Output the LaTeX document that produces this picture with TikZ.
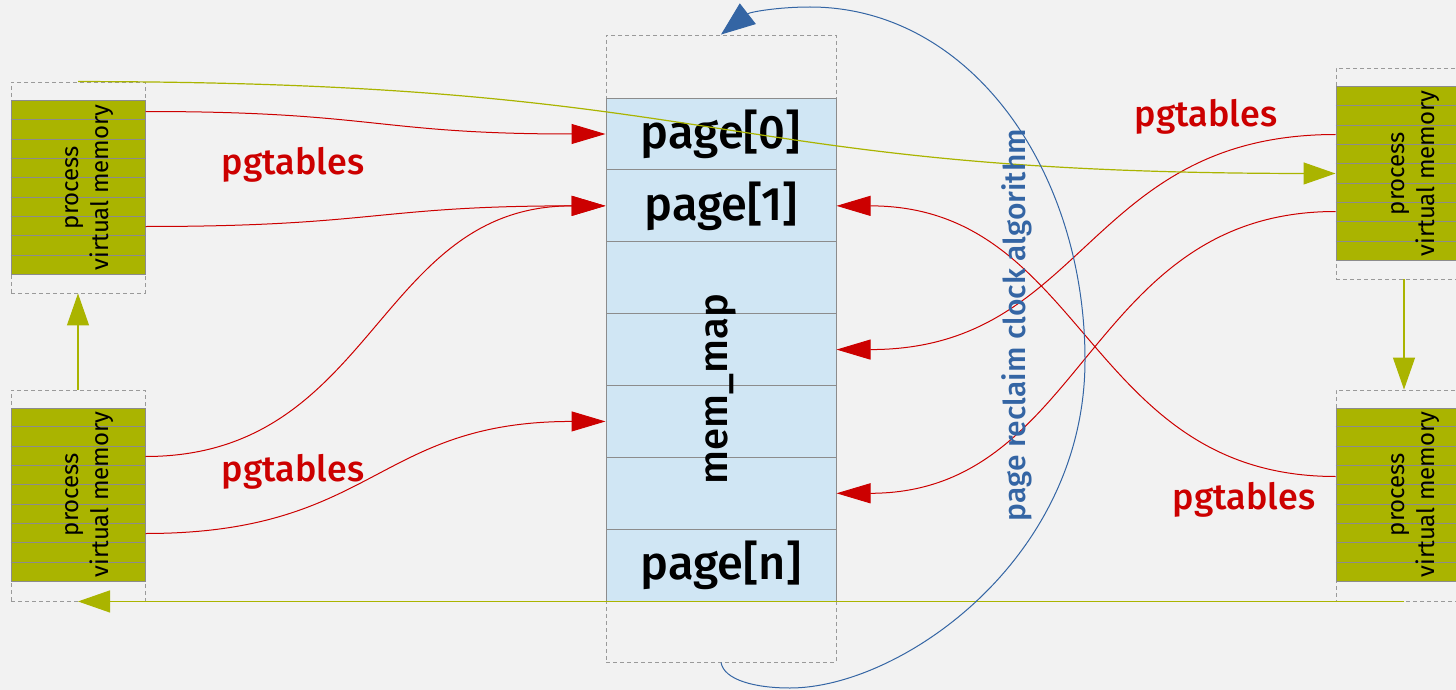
\documentclass[tikz,border=0pt]{standalone}
\usepackage{fontspec}
\setmainfont{Fira Sans}[UprightFont={* Medium},BoldFont={* SemiBold}]
\newfontfamily\lightfont{Fira Sans}
\usepackage{tikz}
\usetikzlibrary{arrows.meta,calc,positioning}
\definecolor{bgc}{HTML}{F2F2F2}
\definecolor{vmc}{HTML}{AAB400}
\definecolor{stripec}{HTML}{8C8C8C}
\definecolor{framec}{HTML}{9A9A9A}
\definecolor{pagec}{HTML}{D0E6F4}
\definecolor{pgred}{HTML}{CC0000}
\definecolor{clockc}{HTML}{3465A4}
\tikzstyle{frame} =[draw=framec, dash pattern=on 4pt off 3pt, line width=0.9pt,
                    minimum width=134pt, minimum height=211pt, inner sep=0pt]
\tikzstyle{vmem}  =[draw=stripec, fill=vmc, line width=1pt,
                    minimum width=134pt, minimum height=173pt, inner sep=0pt]
\tikzstyle{vmtext}=[rotate=90, align=center, inner sep=0pt,
                    font=\lightfont\fontsize{24}{30}\selectfont]
\tikzstyle{page}  =[draw=stripec, fill=pagec, line width=1pt, minimum width=230pt,
                    minimum height=71.86pt, inner sep=0pt,
                    font=\fontsize{47}{54}\selectfont]
\tikzstyle{pgedge}=[draw=pgred, line width=1pt, -{Triangle[length=34pt,width=20pt]}]
\tikzstyle{vmedge}=[draw=vmc, line width=1.2pt, -{Triangle[length=32pt,width=22pt]}]
\tikzstyle{clock} =[draw=clockc, line width=1pt, -{Triangle[length=34pt,width=26pt]}]
\tikzstyle{pglabel}=[text=pgred, font=\fontsize{36}{40}\selectfont]

\begin{document}
\begin{tikzpicture}[x=1pt, y=-1pt]
    \clip (0,0) rectangle (1456,690);
    \fill[bgc] (0,0) rectangle (1456,690);

    % dashed frames round each block
    \node[frame] (ltf) at (78,187.5) {};
    \node[frame] (lbf) at (78,495.5) {};
    \node[frame, minimum width=136pt] (rtf) at (1404,173.5) {};
    \node[frame, minimum width=136pt] (rbf) at (1404,495.5) {};
    \node[frame, minimum width=230pt, minimum height=627pt] (pf) at (721,348.5) {};

    % process address spaces
    \node[vmem] (lt) at (78,187.5) {};
    \node[vmem] (lb) at (78,494.5) {};
    \node[vmem, minimum width=136pt] (rt) at (1404,173.5) {};
    \node[vmem, minimum width=136pt] (rb) at (1404,494.5) {};
    \foreach \b in {lt,lb,rt,rb}{
        \foreach \k in {1,...,8}
            \draw[stripec, line width=1pt] ($(\b.north west)!\k/9!(\b.south west)$)
                -- ($(\b.north east)!\k/9!(\b.south east)$);
        \node[vmtext] at ([xshift=12pt]\b.center) {process\\virtual memory};
    }

    % mem_map array
    \foreach \i/\t in {0/page[0],1/page[1],2/,3/,4/,5/,6/page[n]}
        \node[page] (r\i) at (721,{134+71.86*\i}) {\t};
    \node[rotate=90, font=\fontsize{40}{48}\selectfont] (mm)
        at ($(r3)!0.55!(r4)$) {mem\_map};

    \node[pglabel] (p1) at (293,165) {pgtables};
    \node[pglabel] (p2) at (293,472) {pgtables};
    \node[pglabel] (p3) at (1206,117) {pgtables};
    \node[pglabel] (p4) at (1244,500) {pgtables};

    \coordinate (s1) at ($(lt.north east)+(0,11)$);
    \coordinate (s2) at ($(lt.north east)+(0,126)$);
    \coordinate (s3) at ($(lb.north east)+(0,49)$);
    \coordinate (s4) at ($(lb.north east)+(0,126)$);
    \coordinate (s5) at ($(rt.north west)+(0,48)$);
    \coordinate (s6) at ($(rt.north west)+(0,125)$);
    \coordinate (s7) at ($(rb.north west)+(0,69)$);

    % page table mappings
    \draw[pgedge] (s1) .. controls +(230,0) and +(-230,0) .. (r0.west);
    \draw[pgedge] (s2) .. controls +(230,0) and +(-230,0) .. (r1.west);
    \draw[pgedge] (s3) .. controls +(230,0) and +(-230,0) .. (r1.west);
    \draw[pgedge] (s4) .. controls +(230,0) and +(-230,0) .. (r4.west);
    \draw[pgedge] (s5) .. controls +(-250,0) and +(250,0) .. (r3.east);
    \draw[pgedge] (s6) .. controls +(-250,0) and +(250,0) .. (r5.east);
    \draw[pgedge] (s7) .. controls +(-250,0) and +(250,0) .. (r1.east);

    % process tree
    \draw[vmedge] (ltf.north) .. controls (740,82) and (700,173) .. (rt.west);
    \draw[vmedge] (lbf.north) -- (ltf.south);
    \draw[vmedge] (rtf.south) -- (rbf.north);
    \draw[vmedge] (rbf.south) -- (lbf.south);

    % reclaim loop
    \draw[clock] (pf.south) .. controls (724,680) and (755,688) .. (790,688)
        .. controls (900,688) and (1085,560) .. (1085,360)
        .. controls (1085,170) and (970,7) .. (810,7)
        .. controls (778,7) and (750,12) .. (pf.north);
    \node[rotate=90, text=clockc, font=\fontsize{30}{34}\selectfont] (cl)
        at (1017,325) {page reclaim clock algorithm};
\end{tikzpicture}
\end{document}
